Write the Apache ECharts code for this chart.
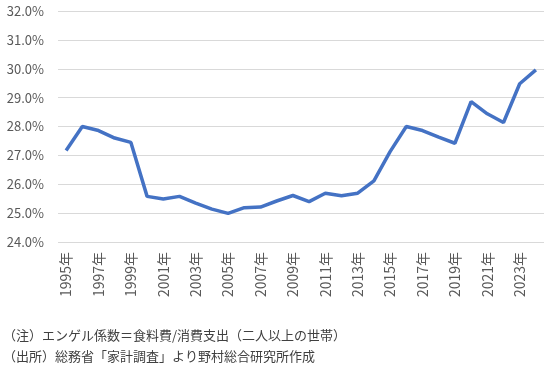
<!DOCTYPE html>
<html><head><meta charset="utf-8">
<script src="https://cdn.jsdelivr.net/npm/echarts@6/dist/echarts.min.js"></script>
<style>html,body{margin:0;padding:0;background:#fff}#c{width:544px;height:372px}</style>
</head><body><div id="c"></div>
<script>
const years = ['1995年','1996年','1997年','1998年','1999年','2000年','2001年','2002年','2003年','2004年','2005年','2006年','2007年','2008年','2009年','2010年','2011年','2012年','2013年','2014年','2015年','2016年','2017年','2018年','2019年','2020年','2021年','2022年','2023年','2024年'];
const engel = [27.17,28.0,27.86,27.6,27.45,25.58,25.49,25.58,25.35,25.14,24.99,25.19,25.21,25.42,25.61,25.40,25.69,25.60,25.69,26.12,27.13,28.0,27.86,27.63,27.42,28.86,28.44,28.14,29.48,29.96];
const noteLines = ['（注）エンゲル係数＝食料費/消費支出（二人以上の世帯）','（出所）総務省「家計調査」より野村総合研究所作成'];
const font = '"Noto Sans CJK JP","Noto Sans",sans-serif';
const chart = echarts.init(document.getElementById('c'));
chart.setOption({
  animation:false,
  grid:{left:58,right:0,top:11,height:231},
  xAxis:{type:'category',data:years,boundaryGap:true,
    axisLine:{show:false},axisTick:{show:false},
    axisLabel:{interval:1,rotate:90,margin:10,fontSize:14,color:'#595959',fontFamily:font}},
  yAxis:{type:'value',min:24,max:32,interval:1,
    axisLine:{show:false},axisTick:{show:false},
    splitLine:{lineStyle:{color:'#d9d9d9',width:1}},
    axisLabel:{margin:14,fontSize:13,color:'#595959',fontFamily:font,formatter:v=>v.toFixed(1)+'%'}},
  series:[{type:'line',data:engel,symbol:'none',lineStyle:{color:'#4472C4',width:3.5},itemStyle:{color:'#4472C4'}}],
  graphic:noteLines.map((t,i)=>({type:'text',left:3,top:329+i*21,style:{text:t,fontSize:13,fill:'#404040',fontFamily:font}}))
});
</script></body></html>
